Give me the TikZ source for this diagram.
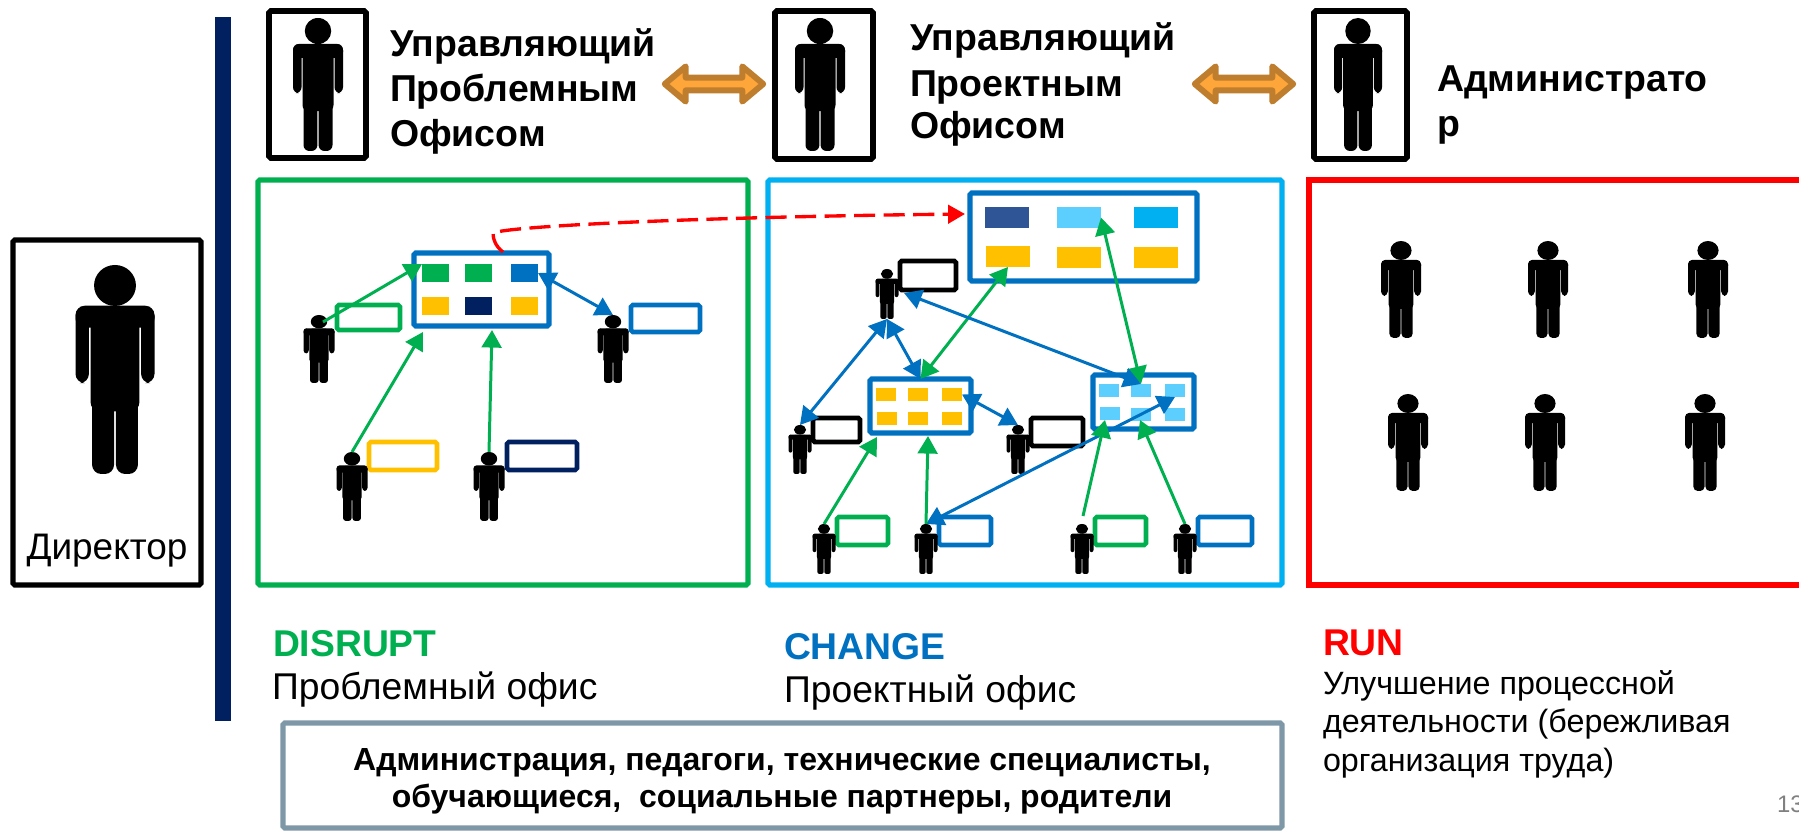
\documentclass[tikz,border=0pt]{standalone}
\usepackage{fontspec}
\setmainfont{Liberation Sans}
\usetikzlibrary{arrows.meta,shapes.arrows}
\definecolor{dgreen}{HTML}{00B050}
\definecolor{dblue}{HTML}{0070C0}
\definecolor{dcyan}{HTML}{00B0F0}
\definecolor{dgold}{HTML}{FFC000}
\definecolor{dnavy}{HTML}{002060}
\definecolor{dsky}{HTML}{5DCFFF}
\definecolor{dsteel}{HTML}{2F5597}
\definecolor{dslate}{HTML}{7F98A8}
\definecolor{dorange}{HTML}{FFA63A}
\definecolor{dbrown}{HTML}{BF7E2E}
\begin{document}
\begin{tikzpicture}[x=0.01cm, y=-0.01cm,
    figure/.pic={
        \fill (0,0.098) circle [x radius=0.265, y radius=0.098];
        \fill (-0.5,0.195) rectangle (0.5,0.30);
        \fill (-0.5,0.2) rectangle (-0.33,0.565);
        \fill (0.33,0.2) rectangle (0.5,0.565);
        \fill (-0.31,0.2) rectangle (0.31,0.70);
        \fill (-0.29,0.6) rectangle (-0.012,1);
        \fill (0.012,0.6) rectangle (0.29,1);
    },
    holder/.style={inner sep=0, outer sep=0},
    framebox/.style={holder, draw, rounded corners=0.5pt},
    cellbox/.style={holder, fill},
    oneway/.style={-{Triangle[length=5pt,width=5.6pt]}, line width=0.85pt},
    bothway/.style={{Triangle[length=5pt,width=5.6pt]}-{Triangle[length=5pt,width=5.6pt]}, line width=0.85pt},
    linkarrow/.style={holder, shape=double arrow, double arrow head extend=1.5pt, double arrow head indent=0pt,
        double arrow tip angle=80, minimum width=10pt, minimum height=28pt, fill=dorange, draw=dbrown, line width=1.7pt, line join=round},
    bigtext/.style={holder, anchor=base west, font=\fontsize{10.65pt}{12.8pt}\selectfont\bfseries},
    headtext/.style={holder, anchor=base west, font=\fontsize{10.6pt}{12pt}\selectfont\bfseries},
    subtext/.style={holder, anchor=base west, font=\fontsize{10.6pt}{12pt}\selectfont},
    smalltext/.style={holder, anchor=base west, font=\fontsize{9.17pt}{11pt}\selectfont},
    boldline/.style={holder, anchor=base, font=\fontsize{9.09pt}{10pt}\selectfont\bfseries},
    ]

    % Page size
    \useasboundingbox (0,0) rectangle (1799,831);

    % Box from its two outer corners: style, name, x1, y1, x2, y2
    \newcommand{\cornerbox}[6]{%
        \node[#1, minimum width={(#5-#3)*0.01cm}, minimum height={(#6-#4)*0.01cm}] (#2) at ({(#3+#5)/2},{(#4+#6)/2}) {};
    }
    % Person: name, centre x, top y, width, height
    \newcommand{\person}[5]{%
        \node[holder, minimum width={#4*0.01cm}, minimum height={#5*0.01cm}] (#1) at (#2,{#3+#5/2}) {};
        \pic[xscale=#4, yscale=#5, rounded corners={#5*0.00045cm}] at (#2,#3) {figure};
    }

    % Dark bar
    \cornerbox{cellbox, fill=dnavy}{bar}{215}{17}{231}{721}

    % Director on the left
    \cornerbox{framebox, line width=1.5pt}{dirframe}{13}{240}{201}{585}
    \person{director}{115}{265}{79}{209}
    \node[subtext, anchor=base, font=\fontsize{10.5pt}{12pt}\selectfont] (dirtext) at (dirframe.center |- 0,560) {Директор};

    % Top row of people
    \cornerbox{framebox, line width=1.6pt}{topframea}{269}{11}{366}{158}
    \cornerbox{framebox, line width=1.6pt}{topframeb}{775}{11}{873}{159}
    \cornerbox{framebox, line width=1.6pt}{topframec}{1314}{11}{1407}{159}
    \person{topa}{318}{18}{50}{133}
    \person{topb}{820}{18}{50}{133}
    \person{topc}{1358}{18}{48}{133}

    \node[bigtext] (titlea) at (390,57) {Управляющий};
    \node[bigtext] (titleb) at (390,102) {Проблемным};
    \node[bigtext] (titlec) at (390,147) {Офисом};
    \node[bigtext] (titled) at (910,51) {Управляющий};
    \node[bigtext] (titlee) at (910,97) {Проектным};
    \node[bigtext] (titlef) at (910,139) {Офисом};
    \node[bigtext] (titleg) at (1437,92) {Администрато};
    \node[bigtext] (titleh) at (1437,137) {р};

    % Links between the top people
    \node[linkarrow] (linka) at (714,84) {};
    \node[linkarrow] (linkb) at (1244,84) {};

    % Three large frames, the red one runs off the page
    \cornerbox{framebox, draw=dgreen, line width=1.5pt}{disrupt}{258}{180}{748}{585}
    \cornerbox{framebox, draw=dcyan, line width=1.5pt}{change}{768}{180}{1282}{585}
    \draw[red, line width=1.5pt] (1799,180) -- (1309,180) -- (1309,585) -- (1799,585);

    % Left frame: the board
    \cornerbox{framebox, draw=dblue, line width=1.5pt}{boarda}{414}{253}{549}{326}
    \cornerbox{cellbox, fill=dgreen}{acella}{422}{264}{449}{282}
    \cornerbox{cellbox, fill=dgreen}{acellb}{465}{264}{492}{282}
    \cornerbox{cellbox, fill=dblue}{acellc}{511}{264}{538}{282}
    \cornerbox{cellbox, fill=dgold}{acelld}{422}{297}{449}{315}
    \cornerbox{cellbox, fill=dnavy}{acelle}{465}{297}{492}{315}
    \cornerbox{cellbox, fill=dgold}{acellf}{511}{297}{538}{315}

    % Left frame: people with their cards
    \cornerbox{framebox, draw=dgreen, line width=1.3pt}{carda}{337}{305}{400}{330}
    \cornerbox{framebox, draw=dblue, line width=1.3pt}{cardb}{631}{305}{700}{332}
    \cornerbox{framebox, draw=dgold, line width=1.3pt}{cardc}{369}{442}{437}{470}
    \cornerbox{framebox, draw=dnavy, line width=1.3pt}{cardd}{507}{442}{577}{470}
    \person{pa}{319}{315}{31}{68}
    \person{pb}{613}{315}{31}{68}
    \person{pc}{352}{452}{31}{69}
    \person{pd}{489}{452}{31}{69}

    % Left frame: arrows
    \coordinate (pahead) at (323,322);
    \coordinate (tipc) at (423,332);
    \coordinate (tipd) at (492,330);
    \draw[oneway, dgreen] (pahead) -- (acella.north west);
    \draw[oneway, dgreen] (pc.north) -- (tipc);
    \draw[oneway, dgreen] (pd.north) -- (tipd);
    \draw[bothway, dblue] (acellc.east) -- (pb.north);

    % Middle frame: the big board
    \cornerbox{framebox, draw=dblue, line width=1.5pt}{boardb}{970}{193}{1197}{281}
    \cornerbox{cellbox, fill=dsteel}{bcella}{985}{207}{1029}{228}
    \cornerbox{cellbox, fill=dsky}{bcellb}{1057}{207}{1101}{228}
    \cornerbox{cellbox, fill=dcyan}{bcellc}{1134}{207}{1178}{228}
    \cornerbox{cellbox, fill=dgold}{bcelld}{986}{246}{1030}{267}
    \cornerbox{cellbox, fill=dgold}{bcelle}{1057}{247}{1101}{268}
    \cornerbox{cellbox, fill=dgold}{bcellf}{1134}{247}{1178}{268}

    % Middle frame: the two small boards
    \cornerbox{framebox, draw=dblue, line width=1.5pt}{boardc}{870}{379}{971}{433}
    \cornerbox{cellbox, fill=dgold}{ccella}{876}{388}{896}{401}
    \cornerbox{cellbox, fill=dgold}{ccellb}{908}{388}{928}{401}
    \cornerbox{cellbox, fill=dgold}{ccellc}{942}{388}{962}{401}
    \cornerbox{cellbox, fill=dgold}{ccelld}{877}{412}{897}{425}
    \cornerbox{cellbox, fill=dgold}{ccelle}{908}{412}{928}{425}
    \cornerbox{cellbox, fill=dgold}{ccellf}{942}{412}{962}{425}

    \cornerbox{framebox, draw=dblue, line width=1.5pt}{boardd}{1093}{375}{1194}{429}
    \cornerbox{cellbox, fill=dsky}{dcella}{1099}{384}{1119}{397}
    \cornerbox{cellbox, fill=dsky}{dcellb}{1131}{384}{1151}{397}
    \cornerbox{cellbox, fill=dsky}{dcellc}{1165}{384}{1185}{397}
    \cornerbox{cellbox, fill=dsky}{dcelld}{1100}{407}{1120}{420}
    \cornerbox{cellbox, fill=dsky}{dcelle}{1131}{408}{1151}{421}
    \cornerbox{cellbox, fill=dsky}{dcellf}{1165}{408}{1185}{421}

    % Middle frame: people with their cards
    \cornerbox{framebox, line width=1.4pt}{cardm}{900}{261}{956}{290}
    \cornerbox{framebox, line width=1.4pt}{cardn}{813}{418}{860}{442}
    \cornerbox{framebox, line width=1.4pt}{cardo}{1031}{418}{1083}{446}
    \cornerbox{framebox, draw=dgreen, line width=1.3pt}{cardp}{837}{517}{888}{545}
    \cornerbox{framebox, draw=dblue, line width=1.3pt}{cardq}{939}{517}{991}{545}
    \cornerbox{framebox, draw=dgreen, line width=1.3pt}{cardr}{1095}{517}{1146}{545}
    \cornerbox{framebox, draw=dblue, line width=1.3pt}{cards}{1198}{517}{1252}{545}
    \person{pm}{887}{269}{23}{50}
    \person{pn}{800}{425}{23}{49}
    \person{po}{1018}{425}{23}{49}
    \person{pp}{824}{524}{23}{50}
    \person{pq}{926}{524}{23}{50}
    \person{pr}{1082}{524}{23}{50}
    \person{ps}{1185}{524}{23}{50}

    % Middle frame: arrows
    \coordinate (cardmcorner) at (904,293);
    \coordinate (tipp) at (877,437);
    \coordinate (tipq) at (928,436);
    \coordinate (tipr) at (1105,420);
    \coordinate (tips) at (1140,420);
    \coordinate (prtop) at (1083,516);
    \draw[bothway, dgreen] (bcelld.south) -- (boardc.north);
    \draw[bothway, dgreen] (bcellb.east) -- (dcellb.north);
    \draw[bothway, dblue] (cardmcorner) -- (dcellb.north);
    \draw[bothway, dblue] (pm.south) -- (pn.north);
    \draw[bothway, dblue] (pm.south) -- (boardc.north);
    \draw[bothway, dblue] (ccellc.east) -- (po.north);
    \draw[bothway, dblue] (pq.north) -- (dcellc.south);
    \draw[oneway, dgreen] (pp.north) -- (tipp);
    \draw[oneway, dgreen] (pq.north) -- (tipq);
    \draw[oneway, dgreen] (prtop) -- (tipr);
    \draw[oneway, dgreen] (ps.north) -- (tips);

    % Red dashed arrow between the frames
    \coordinate (redstart) at (503,252);
    \coordinate (redend) at (965,214);
    \draw[-{Triangle[length=4.8pt,width=5.2pt]}, red, line width=0.95pt, dash pattern=on 6pt off 2.4pt]
        (redstart) .. controls (495,246) and (493,238) .. (493,233)
        .. controls (510,226) and (700,217) .. (redend);

    % Right frame: six people
    \person{ra}{1401}{241}{40}{97}
    \person{rb}{1548}{241}{40}{97}
    \person{rc}{1708}{241}{40}{97}
    \person{rd}{1408}{394}{40}{97}
    \person{re}{1545}{394}{40}{97}
    \person{rf}{1705}{394}{40}{97}

    % Texts under the frames
    \node[headtext, text=dgreen] (heada) at (273,657) {DISRUPT};
    \node[headtext, text=dblue] (headb) at (784,660) {CHANGE};
    \node[headtext, text=red] (headc) at (1323,656) {RUN};
    \node[subtext] (suba) at (272,700) {Проблемный офис};
    \node[subtext] (subb) at (784,703) {Проектный офис};
    \node[smalltext] (subc) at (1323,695) {Улучшение процессной};
    \node[smalltext] (subd) at (1323,733) {деятельности (бережливая};
    \node[smalltext] (sube) at (1323,772) {организация труда)};

    % Box at the bottom
    \cornerbox{framebox, draw=dslate, line width=1.5pt}{people}{283}{723}{1282}{828}
    \node[boldline] (peoplea) at (782,771) {Администрация, педагоги, технические специалисты,};
    \node[boldline] (peopleb) at (782,808) {обучающиеся,\ \ социальные партнеры, родители};

    % Page number
    \node[smalltext, font=\fontsize{6.8pt}{8pt}\selectfont, text=gray] (pagenum) at (1777,813) {13};
\end{tikzpicture}
\end{document}
